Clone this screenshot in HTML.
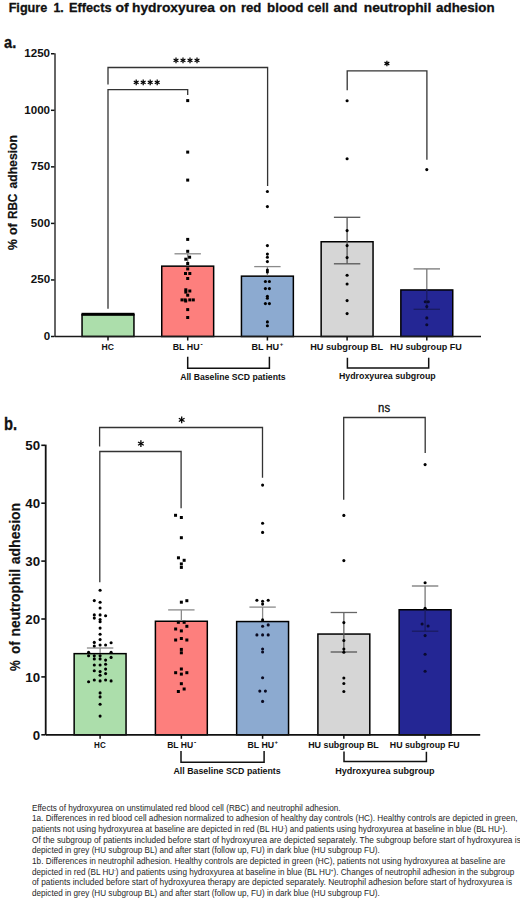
<!DOCTYPE html>
<html><head><meta charset="utf-8"><style>
html,body{margin:0;padding:0;background:#fff;}
body{width:520px;height:902px;overflow:hidden;}
svg{display:block;font-family:"Liberation Sans",sans-serif;}
</style></head><body>
<svg width="520" height="902" viewBox="0 0 520 902">
<rect width="520" height="902" fill="#fff"/>
<text x="8.65" y="12.10" font-size="13.2" font-weight="bold" text-anchor="start" fill="#111" textLength="38.65" lengthAdjust="spacingAndGlyphs" stroke="#111" stroke-width="0.3">Figure</text>
<text x="53.50" y="12.10" font-size="13.2" font-weight="bold" text-anchor="start" fill="#111" textLength="10.30" lengthAdjust="spacingAndGlyphs" stroke="#111" stroke-width="0.3">1.</text>
<text x="69.00" y="12.10" font-size="13.2" font-weight="bold" text-anchor="start" fill="#111" textLength="42.49" lengthAdjust="spacingAndGlyphs" stroke="#111" stroke-width="0.3">Effects</text>
<text x="115.60" y="12.10" font-size="13.2" font-weight="bold" text-anchor="start" fill="#111" textLength="13.17" lengthAdjust="spacingAndGlyphs" stroke="#111" stroke-width="0.3">of</text>
<text x="132.00" y="12.10" font-size="13.2" font-weight="bold" text-anchor="start" fill="#111" textLength="82.91" lengthAdjust="spacingAndGlyphs" stroke="#111" stroke-width="0.3">hydroxyurea</text>
<text x="219.60" y="12.10" font-size="13.2" font-weight="bold" text-anchor="start" fill="#111" textLength="16.20" lengthAdjust="spacingAndGlyphs" stroke="#111" stroke-width="0.3">on</text>
<text x="240.90" y="12.10" font-size="13.2" font-weight="bold" text-anchor="start" fill="#111" textLength="20.40" lengthAdjust="spacingAndGlyphs" stroke="#111" stroke-width="0.3">red</text>
<text x="267.10" y="12.10" font-size="13.2" font-weight="bold" text-anchor="start" fill="#111" textLength="36.20" lengthAdjust="spacingAndGlyphs" stroke="#111" stroke-width="0.3">blood</text>
<text x="307.50" y="12.10" font-size="13.2" font-weight="bold" text-anchor="start" fill="#111" textLength="21.30" lengthAdjust="spacingAndGlyphs" stroke="#111" stroke-width="0.3">cell</text>
<text x="333.40" y="12.10" font-size="13.2" font-weight="bold" text-anchor="start" fill="#111" textLength="24.00" lengthAdjust="spacingAndGlyphs" stroke="#111" stroke-width="0.3">and</text>
<text x="363.70" y="12.10" font-size="13.2" font-weight="bold" text-anchor="start" fill="#111" textLength="67.60" lengthAdjust="spacingAndGlyphs" stroke="#111" stroke-width="0.3">neutrophil</text>
<text x="436.10" y="12.10" font-size="13.2" font-weight="bold" text-anchor="start" fill="#111" textLength="58.50" lengthAdjust="spacingAndGlyphs" stroke="#111" stroke-width="0.3">adhesion</text>
<text x="4.10" y="47.60" font-size="17" font-weight="bold" text-anchor="start" fill="#111" textLength="12.20" lengthAdjust="spacingAndGlyphs" stroke="#111" stroke-width="0.3">a.</text>
<rect x="54" y="53.3" width="2" height="283.70" fill="#666"/>
<line x1="51.00" y1="336.50" x2="54.50" y2="336.50" stroke="#111" stroke-width="1.5"/>
<text x="43.65" y="339.80" font-size="11.6" font-weight="bold" text-anchor="start" fill="#111">0</text>
<line x1="51.00" y1="279.95" x2="54.50" y2="279.95" stroke="#111" stroke-width="1.5"/>
<text x="30.75" y="283.25" font-size="11.6" font-weight="bold" text-anchor="start" fill="#111">250</text>
<line x1="51.00" y1="223.40" x2="54.50" y2="223.40" stroke="#111" stroke-width="1.5"/>
<text x="30.75" y="226.70" font-size="11.6" font-weight="bold" text-anchor="start" fill="#111">500</text>
<line x1="51.00" y1="166.85" x2="54.50" y2="166.85" stroke="#111" stroke-width="1.5"/>
<text x="30.75" y="170.15" font-size="11.6" font-weight="bold" text-anchor="start" fill="#111">750</text>
<line x1="51.00" y1="110.30" x2="54.50" y2="110.30" stroke="#111" stroke-width="1.5"/>
<text x="24.29" y="113.60" font-size="11.6" font-weight="bold" text-anchor="start" fill="#111">1000</text>
<line x1="51.00" y1="53.75" x2="54.50" y2="53.75" stroke="#111" stroke-width="1.5"/>
<text x="24.29" y="57.05" font-size="11.6" font-weight="bold" text-anchor="start" fill="#111">1250</text>
<g transform="translate(17.3,0) rotate(-90)">
<text x="-249.90" y="0.00" font-size="13.2" font-weight="bold" text-anchor="start" fill="#111" textLength="10.90" lengthAdjust="spacingAndGlyphs" stroke="#111" stroke-width="0.2">%</text>
<text x="-235.00" y="0.00" font-size="13.2" font-weight="bold" text-anchor="start" fill="#111" textLength="11.77" lengthAdjust="spacingAndGlyphs" stroke="#111" stroke-width="0.2">of</text>
<text x="-219.10" y="0.00" font-size="13.2" font-weight="bold" text-anchor="start" fill="#111" textLength="25.44" lengthAdjust="spacingAndGlyphs" stroke="#111" stroke-width="0.2">RBC</text>
<text x="-188.60" y="0.00" font-size="13.2" font-weight="bold" text-anchor="start" fill="#111" textLength="53.60" lengthAdjust="spacingAndGlyphs" stroke="#111" stroke-width="0.2">adhesion</text>
</g>
<rect x="82.05" y="314.63" width="51.90" height="21.87" fill="#acdeab" stroke="#000" stroke-width="1.5"/>
<rect x="161.75" y="266.15" width="51.90" height="70.35" fill="#fd7f7d" stroke="#000" stroke-width="1.5"/>
<rect x="241.45" y="276.15" width="51.90" height="60.35" fill="#8caad0" stroke="#000" stroke-width="1.5"/>
<rect x="321.15" y="241.75" width="51.90" height="94.75" fill="#d6d6d6" stroke="#000" stroke-width="1.5"/>
<rect x="400.85" y="289.95" width="51.90" height="46.55" fill="#242694" stroke="#000" stroke-width="1.5"/>
<rect x="81.50" y="312.8" width="53" height="2.9" fill="#000"/>
<line x1="55.00" y1="336.50" x2="481.00" y2="336.50" stroke="#1a1a1a" stroke-width="1.6"/>
<line x1="108.00" y1="336.50" x2="108.00" y2="340.50" stroke="#111" stroke-width="1.5"/>
<line x1="187.70" y1="336.50" x2="187.70" y2="340.50" stroke="#111" stroke-width="1.5"/>
<line x1="267.40" y1="336.50" x2="267.40" y2="340.50" stroke="#111" stroke-width="1.5"/>
<line x1="347.10" y1="336.50" x2="347.10" y2="340.50" stroke="#111" stroke-width="1.5"/>
<line x1="426.80" y1="336.50" x2="426.80" y2="340.50" stroke="#111" stroke-width="1.5"/>
<line x1="187.70" y1="253.80" x2="187.70" y2="265.40" stroke="#8a8a8a" stroke-width="1.3"/>
<line x1="174.50" y1="253.80" x2="200.90" y2="253.80" stroke="#8a8a8a" stroke-width="1.3"/>
<line x1="267.40" y1="266.60" x2="267.40" y2="275.40" stroke="#8a8a8a" stroke-width="1.3"/>
<line x1="254.20" y1="266.60" x2="280.60" y2="266.60" stroke="#8a8a8a" stroke-width="1.3"/>
<line x1="347.10" y1="217.30" x2="347.10" y2="241.00" stroke="#555" stroke-width="1.3"/>
<line x1="333.90" y1="217.30" x2="360.30" y2="217.30" stroke="#555" stroke-width="1.3"/>
<line x1="347.10" y1="241.00" x2="347.10" y2="263.80" stroke="#555" stroke-width="1.3"/>
<line x1="333.90" y1="263.80" x2="360.30" y2="263.80" stroke="#555" stroke-width="1.3"/>
<line x1="426.80" y1="268.90" x2="426.80" y2="289.20" stroke="#777" stroke-width="1.3"/>
<line x1="413.60" y1="268.90" x2="440.00" y2="268.90" stroke="#777" stroke-width="1.3"/>
<line x1="426.80" y1="289.20" x2="426.80" y2="309.30" stroke="#1a1c60" stroke-width="1.3"/>
<line x1="413.60" y1="309.30" x2="440.00" y2="309.30" stroke="#1a1c60" stroke-width="1.3"/>
<polyline points="108.00,308.00 108.00,89.60 187.70,89.60 187.70,94.40" fill="none" stroke="#333" stroke-width="1.3" stroke-linejoin="miter" stroke-linecap="square"/>
<polyline points="108.00,83.80 108.00,67.50 267.60,67.50 267.60,185.30" fill="none" stroke="#333" stroke-width="1.3" stroke-linejoin="miter" stroke-linecap="square"/>
<polyline points="347.20,89.50 347.20,70.80 426.90,70.80 426.90,159.20" fill="none" stroke="#333" stroke-width="1.3" stroke-linejoin="miter" stroke-linecap="square"/>
<line x1="136.20" y1="79.60" x2="136.20" y2="85.20" stroke="#000" stroke-width="1.25"/>
<line x1="133.78" y1="81.00" x2="138.62" y2="83.80" stroke="#000" stroke-width="1.25"/>
<line x1="138.62" y1="81.00" x2="133.78" y2="83.80" stroke="#000" stroke-width="1.25"/>
<line x1="143.20" y1="79.60" x2="143.20" y2="85.20" stroke="#000" stroke-width="1.25"/>
<line x1="140.78" y1="81.00" x2="145.62" y2="83.80" stroke="#000" stroke-width="1.25"/>
<line x1="145.62" y1="81.00" x2="140.78" y2="83.80" stroke="#000" stroke-width="1.25"/>
<line x1="150.20" y1="79.60" x2="150.20" y2="85.20" stroke="#000" stroke-width="1.25"/>
<line x1="147.78" y1="81.00" x2="152.62" y2="83.80" stroke="#000" stroke-width="1.25"/>
<line x1="152.62" y1="81.00" x2="147.78" y2="83.80" stroke="#000" stroke-width="1.25"/>
<line x1="157.20" y1="79.60" x2="157.20" y2="85.20" stroke="#000" stroke-width="1.25"/>
<line x1="154.78" y1="81.00" x2="159.62" y2="83.80" stroke="#000" stroke-width="1.25"/>
<line x1="159.62" y1="81.00" x2="154.78" y2="83.80" stroke="#000" stroke-width="1.25"/>
<line x1="176.00" y1="57.60" x2="176.00" y2="63.20" stroke="#000" stroke-width="1.25"/>
<line x1="173.58" y1="59.00" x2="178.42" y2="61.80" stroke="#000" stroke-width="1.25"/>
<line x1="178.42" y1="59.00" x2="173.58" y2="61.80" stroke="#000" stroke-width="1.25"/>
<line x1="183.00" y1="57.60" x2="183.00" y2="63.20" stroke="#000" stroke-width="1.25"/>
<line x1="180.58" y1="59.00" x2="185.42" y2="61.80" stroke="#000" stroke-width="1.25"/>
<line x1="185.42" y1="59.00" x2="180.58" y2="61.80" stroke="#000" stroke-width="1.25"/>
<line x1="190.00" y1="57.60" x2="190.00" y2="63.20" stroke="#000" stroke-width="1.25"/>
<line x1="187.58" y1="59.00" x2="192.42" y2="61.80" stroke="#000" stroke-width="1.25"/>
<line x1="192.42" y1="59.00" x2="187.58" y2="61.80" stroke="#000" stroke-width="1.25"/>
<line x1="197.00" y1="57.60" x2="197.00" y2="63.20" stroke="#000" stroke-width="1.25"/>
<line x1="194.58" y1="59.00" x2="199.42" y2="61.80" stroke="#000" stroke-width="1.25"/>
<line x1="199.42" y1="59.00" x2="194.58" y2="61.80" stroke="#000" stroke-width="1.25"/>
<line x1="386.90" y1="60.70" x2="386.90" y2="66.30" stroke="#000" stroke-width="1.25"/>
<line x1="384.48" y1="62.10" x2="389.32" y2="64.90" stroke="#000" stroke-width="1.25"/>
<line x1="389.32" y1="62.10" x2="384.48" y2="64.90" stroke="#000" stroke-width="1.25"/>
<rect x="186.20" y="99.10" width="3" height="3" fill="#000"/>
<rect x="186.20" y="150.60" width="3" height="3" fill="#000"/>
<rect x="186.20" y="178.60" width="3" height="3" fill="#000"/>
<rect x="186.20" y="237.90" width="3" height="3" fill="#000"/>
<rect x="186.20" y="249.80" width="3" height="3" fill="#000"/>
<rect x="188.10" y="255.70" width="3" height="3" fill="#000"/>
<rect x="184.30" y="257.70" width="3" height="3" fill="#000"/>
<rect x="186.20" y="262.00" width="3" height="3" fill="#000"/>
<rect x="186.20" y="267.40" width="3" height="3" fill="#000"/>
<rect x="184.00" y="272.00" width="3" height="3" fill="#000"/>
<rect x="188.30" y="272.00" width="3" height="3" fill="#000"/>
<rect x="186.20" y="277.00" width="3" height="3" fill="#000"/>
<rect x="184.30" y="288.30" width="3" height="3" fill="#000"/>
<rect x="188.30" y="289.50" width="3" height="3" fill="#000"/>
<rect x="184.30" y="290.60" width="3" height="3" fill="#000"/>
<rect x="186.20" y="293.70" width="3" height="3" fill="#000"/>
<rect x="180.50" y="298.40" width="3" height="3" fill="#000"/>
<rect x="183.70" y="298.40" width="3" height="3" fill="#000"/>
<rect x="188.30" y="298.40" width="3" height="3" fill="#000"/>
<rect x="191.80" y="298.40" width="3" height="3" fill="#000"/>
<rect x="184.20" y="299.50" width="3" height="3" fill="#000"/>
<rect x="186.20" y="308.10" width="3" height="3" fill="#000"/>
<rect x="186.20" y="316.00" width="3" height="3" fill="#000"/>
<circle cx="267.40" cy="191.50" r="1.55" fill="#000"/>
<circle cx="267.40" cy="206.60" r="1.55" fill="#000"/>
<circle cx="267.40" cy="245.60" r="1.55" fill="#000"/>
<circle cx="267.40" cy="254.10" r="1.55" fill="#000"/>
<circle cx="267.40" cy="257.20" r="1.55" fill="#000"/>
<circle cx="267.40" cy="261.60" r="1.55" fill="#000"/>
<circle cx="267.40" cy="270.10" r="1.55" fill="#000"/>
<circle cx="267.40" cy="271.90" r="1.55" fill="#000"/>
<circle cx="265.40" cy="281.50" r="1.55" fill="#000"/>
<circle cx="269.40" cy="281.50" r="1.55" fill="#000"/>
<circle cx="265.40" cy="288.60" r="1.55" fill="#000"/>
<circle cx="269.40" cy="288.60" r="1.55" fill="#000"/>
<circle cx="267.40" cy="296.20" r="1.55" fill="#000"/>
<circle cx="267.40" cy="298.30" r="1.55" fill="#000"/>
<circle cx="265.40" cy="303.60" r="1.55" fill="#000"/>
<circle cx="269.40" cy="303.60" r="1.55" fill="#000"/>
<circle cx="267.40" cy="321.90" r="1.55" fill="#000"/>
<circle cx="267.40" cy="325.80" r="1.55" fill="#000"/>
<circle cx="347.10" cy="100.80" r="1.55" fill="#000"/>
<circle cx="347.10" cy="158.80" r="1.55" fill="#000"/>
<circle cx="347.10" cy="230.60" r="1.55" fill="#000"/>
<circle cx="347.10" cy="245.60" r="1.55" fill="#000"/>
<circle cx="347.10" cy="257.60" r="1.55" fill="#000"/>
<circle cx="347.10" cy="275.20" r="1.55" fill="#000"/>
<circle cx="347.10" cy="284.00" r="1.55" fill="#000"/>
<circle cx="347.10" cy="300.60" r="1.55" fill="#000"/>
<circle cx="347.10" cy="313.60" r="1.55" fill="#000"/>
<circle cx="426.80" cy="169.60" r="1.55" fill="#000"/>
<circle cx="425.30" cy="301.70" r="1.55" fill="#0a0a30"/>
<circle cx="428.30" cy="301.70" r="1.55" fill="#0a0a30"/>
<circle cx="426.80" cy="306.60" r="1.55" fill="#0a0a30"/>
<circle cx="426.80" cy="317.90" r="1.55" fill="#0a0a30"/>
<circle cx="426.80" cy="324.80" r="1.55" fill="#0a0a30"/>
<text x="101.60" y="350.10" font-size="9" font-weight="bold" text-anchor="start" fill="#111" textLength="12.40" lengthAdjust="spacingAndGlyphs">HC</text>
<text x="172.70" y="350.10" font-size="9" font-weight="bold" text-anchor="start" fill="#111" textLength="26.90" lengthAdjust="spacingAndGlyphs">BL HU</text>
<text x="200.40" y="346.20" font-size="6.5" font-weight="bold" fill="#111">-</text>
<text x="251.50" y="350.10" font-size="9" font-weight="bold" text-anchor="start" fill="#111" textLength="27.60" lengthAdjust="spacingAndGlyphs">BL HU</text>
<text x="279.80" y="346.40" font-size="6" font-weight="bold" fill="#111">+</text>
<text x="310.20" y="350.10" font-size="9" font-weight="bold" text-anchor="start" fill="#111" textLength="72.90" lengthAdjust="spacingAndGlyphs">HU subgroup BL</text>
<text x="389.90" y="350.10" font-size="9" font-weight="bold" text-anchor="start" fill="#111" textLength="71.90" lengthAdjust="spacingAndGlyphs">HU subgroup FU</text>
<polyline points="187.70,357.60 187.70,368.20 269.40,368.20 269.40,357.60" fill="none" stroke="#111" stroke-width="1.5" stroke-linejoin="miter" stroke-linecap="square"/>
<polyline points="347.40,358.40 347.40,368.00 428.70,368.00 428.70,358.40" fill="none" stroke="#111" stroke-width="1.5" stroke-linejoin="miter" stroke-linecap="square"/>
<text x="180.20" y="379.80" font-size="8.8" font-weight="bold" text-anchor="start" fill="#111" textLength="105.50" lengthAdjust="spacingAndGlyphs">All Baseline SCD patients</text>
<text x="339.00" y="378.60" font-size="8.8" font-weight="bold" text-anchor="start" fill="#111" textLength="96.70" lengthAdjust="spacingAndGlyphs">Hydroxyurea subgroup</text>
<text x="4.10" y="429.60" font-size="17.6" font-weight="bold" text-anchor="start" fill="#111" textLength="13.10" lengthAdjust="spacingAndGlyphs" stroke="#111" stroke-width="0.3">b.</text>
<rect x="44.8" y="444.6" width="1.8" height="290.80" fill="#111"/>
<line x1="41.30" y1="734.80" x2="45.00" y2="734.80" stroke="#111" stroke-width="1.6"/>
<text x="32.71" y="739.50" font-size="13.3" font-weight="bold" text-anchor="start" fill="#111">0</text>
<line x1="41.30" y1="676.90" x2="45.00" y2="676.90" stroke="#111" stroke-width="1.6"/>
<text x="25.31" y="681.60" font-size="13.3" font-weight="bold" text-anchor="start" fill="#111">10</text>
<line x1="41.30" y1="619.00" x2="45.00" y2="619.00" stroke="#111" stroke-width="1.6"/>
<text x="25.31" y="623.70" font-size="13.3" font-weight="bold" text-anchor="start" fill="#111">20</text>
<line x1="41.30" y1="561.10" x2="45.00" y2="561.10" stroke="#111" stroke-width="1.6"/>
<text x="25.31" y="565.80" font-size="13.3" font-weight="bold" text-anchor="start" fill="#111">30</text>
<line x1="41.30" y1="503.20" x2="45.00" y2="503.20" stroke="#111" stroke-width="1.6"/>
<text x="25.31" y="507.90" font-size="13.3" font-weight="bold" text-anchor="start" fill="#111">40</text>
<line x1="41.30" y1="445.30" x2="45.00" y2="445.30" stroke="#111" stroke-width="1.6"/>
<text x="25.31" y="450.00" font-size="13.3" font-weight="bold" text-anchor="start" fill="#111">50</text>
<g transform="translate(19.9,0) rotate(-90)">
<text x="-671.00" y="0.00" font-size="14.8" font-weight="bold" text-anchor="start" fill="#111" textLength="10.70" lengthAdjust="spacingAndGlyphs" stroke="#111" stroke-width="0.2">%</text>
<text x="-654.10" y="0.00" font-size="14.8" font-weight="bold" text-anchor="start" fill="#111" textLength="12.77" lengthAdjust="spacingAndGlyphs" stroke="#111" stroke-width="0.2">of</text>
<text x="-636.40" y="0.00" font-size="14.8" font-weight="bold" text-anchor="start" fill="#111" textLength="67.40" lengthAdjust="spacingAndGlyphs" stroke="#111" stroke-width="0.2">neutrophil</text>
<text x="-564.20" y="0.00" font-size="14.8" font-weight="bold" text-anchor="start" fill="#111" textLength="61.30" lengthAdjust="spacingAndGlyphs" stroke="#111" stroke-width="0.2">adhesion</text>
</g>
<rect x="74.15" y="653.65" width="51.90" height="81.15" fill="#acdeab" stroke="#000" stroke-width="1.5"/>
<rect x="155.40" y="621.25" width="51.90" height="113.55" fill="#fd7f7d" stroke="#000" stroke-width="1.5"/>
<rect x="236.65" y="621.55" width="51.90" height="113.25" fill="#8caad0" stroke="#000" stroke-width="1.5"/>
<rect x="317.90" y="634.05" width="51.90" height="100.75" fill="#d6d6d6" stroke="#000" stroke-width="1.5"/>
<rect x="399.15" y="609.75" width="51.90" height="125.05" fill="#242694" stroke="#000" stroke-width="1.5"/>
<line x1="46.00" y1="734.80" x2="480.20" y2="734.80" stroke="#111" stroke-width="1.8"/>
<line x1="100.10" y1="734.80" x2="100.10" y2="738.80" stroke="#111" stroke-width="1.5"/>
<line x1="181.35" y1="734.80" x2="181.35" y2="738.80" stroke="#111" stroke-width="1.5"/>
<line x1="262.60" y1="734.80" x2="262.60" y2="738.80" stroke="#111" stroke-width="1.5"/>
<line x1="343.85" y1="734.80" x2="343.85" y2="738.80" stroke="#111" stroke-width="1.5"/>
<line x1="425.10" y1="734.80" x2="425.10" y2="738.80" stroke="#111" stroke-width="1.5"/>
<line x1="100.10" y1="648.00" x2="100.10" y2="652.90" stroke="#8a8a8a" stroke-width="1.3"/>
<line x1="86.90" y1="648.00" x2="113.30" y2="648.00" stroke="#8a8a8a" stroke-width="1.3"/>
<line x1="181.35" y1="609.90" x2="181.35" y2="620.50" stroke="#8a8a8a" stroke-width="1.3"/>
<line x1="168.15" y1="609.90" x2="194.55" y2="609.90" stroke="#8a8a8a" stroke-width="1.3"/>
<line x1="262.60" y1="607.10" x2="262.60" y2="620.80" stroke="#8a8a8a" stroke-width="1.3"/>
<line x1="249.40" y1="607.10" x2="275.80" y2="607.10" stroke="#8a8a8a" stroke-width="1.3"/>
<line x1="343.85" y1="612.50" x2="343.85" y2="633.30" stroke="#666" stroke-width="1.3"/>
<line x1="330.65" y1="612.50" x2="357.05" y2="612.50" stroke="#666" stroke-width="1.3"/>
<line x1="343.85" y1="633.30" x2="343.85" y2="652.00" stroke="#555" stroke-width="1.3"/>
<line x1="330.65" y1="652.00" x2="357.05" y2="652.00" stroke="#555" stroke-width="1.3"/>
<line x1="425.10" y1="586.00" x2="425.10" y2="609.00" stroke="#777" stroke-width="1.3"/>
<line x1="411.90" y1="586.00" x2="438.30" y2="586.00" stroke="#777" stroke-width="1.3"/>
<line x1="425.10" y1="609.00" x2="425.10" y2="631.20" stroke="#1a1c60" stroke-width="1.3"/>
<line x1="411.90" y1="631.20" x2="438.30" y2="631.20" stroke="#1a1c60" stroke-width="1.3"/>
<polyline points="99.80,581.50 99.80,451.50 181.10,451.50 181.10,507.50" fill="none" stroke="#333" stroke-width="1.3" stroke-linejoin="miter" stroke-linecap="square"/>
<polyline points="99.60,445.80 99.60,427.50 262.50,427.50 262.50,477.20" fill="none" stroke="#333" stroke-width="1.3" stroke-linejoin="miter" stroke-linecap="square"/>
<polyline points="343.70,499.00 343.70,417.50 425.20,417.50 425.20,452.30" fill="none" stroke="#333" stroke-width="1.3" stroke-linejoin="miter" stroke-linecap="square"/>
<line x1="140.90" y1="440.30" x2="140.90" y2="446.90" stroke="#000" stroke-width="1.3"/>
<line x1="138.04" y1="441.95" x2="143.76" y2="445.25" stroke="#000" stroke-width="1.3"/>
<line x1="143.76" y1="441.95" x2="138.04" y2="445.25" stroke="#000" stroke-width="1.3"/>
<line x1="181.70" y1="416.60" x2="181.70" y2="423.20" stroke="#000" stroke-width="1.3"/>
<line x1="178.84" y1="418.25" x2="184.56" y2="421.55" stroke="#000" stroke-width="1.3"/>
<line x1="184.56" y1="418.25" x2="178.84" y2="421.55" stroke="#000" stroke-width="1.3"/>
<text x="384.10" y="411.80" font-size="12" font-weight="normal" text-anchor="middle" fill="#111" textLength="12.00" lengthAdjust="spacingAndGlyphs" stroke="#111" stroke-width="0.3">ns</text>
<circle cx="100.10" cy="590.20" r="1.55" fill="#000"/>
<circle cx="94.30" cy="600.60" r="1.55" fill="#000"/>
<circle cx="100.10" cy="602.20" r="1.55" fill="#000"/>
<circle cx="100.10" cy="608.00" r="1.55" fill="#000"/>
<circle cx="94.30" cy="614.90" r="1.55" fill="#000"/>
<circle cx="100.10" cy="614.90" r="1.55" fill="#000"/>
<circle cx="105.60" cy="615.70" r="1.55" fill="#000"/>
<circle cx="94.30" cy="618.10" r="1.55" fill="#000"/>
<circle cx="100.10" cy="619.50" r="1.55" fill="#000"/>
<circle cx="100.10" cy="621.70" r="1.55" fill="#000"/>
<circle cx="100.10" cy="628.10" r="1.55" fill="#000"/>
<circle cx="100.10" cy="634.30" r="1.55" fill="#000"/>
<circle cx="100.10" cy="639.60" r="1.55" fill="#000"/>
<circle cx="94.30" cy="642.40" r="1.55" fill="#000"/>
<circle cx="111.10" cy="642.70" r="1.55" fill="#000"/>
<circle cx="100.10" cy="645.00" r="1.55" fill="#000"/>
<circle cx="105.60" cy="645.00" r="1.55" fill="#000"/>
<circle cx="94.30" cy="646.00" r="1.55" fill="#000"/>
<circle cx="88.60" cy="652.30" r="1.55" fill="#000"/>
<circle cx="111.10" cy="652.30" r="1.55" fill="#000"/>
<circle cx="88.60" cy="655.80" r="1.55" fill="#000"/>
<circle cx="94.30" cy="655.80" r="1.55" fill="#000"/>
<circle cx="100.10" cy="655.80" r="1.55" fill="#000"/>
<circle cx="111.10" cy="657.40" r="1.55" fill="#000"/>
<circle cx="94.30" cy="658.90" r="1.55" fill="#000"/>
<circle cx="100.10" cy="658.90" r="1.55" fill="#000"/>
<circle cx="105.60" cy="660.10" r="1.55" fill="#000"/>
<circle cx="105.60" cy="664.30" r="1.55" fill="#000"/>
<circle cx="94.30" cy="665.00" r="1.55" fill="#000"/>
<circle cx="100.10" cy="665.00" r="1.55" fill="#000"/>
<circle cx="105.60" cy="669.10" r="1.55" fill="#000"/>
<circle cx="94.30" cy="670.70" r="1.55" fill="#000"/>
<circle cx="100.10" cy="671.60" r="1.55" fill="#000"/>
<circle cx="105.60" cy="673.60" r="1.55" fill="#000"/>
<circle cx="100.10" cy="675.30" r="1.55" fill="#000"/>
<circle cx="94.30" cy="680.00" r="1.55" fill="#000"/>
<circle cx="105.60" cy="680.00" r="1.55" fill="#000"/>
<circle cx="100.10" cy="680.90" r="1.55" fill="#000"/>
<circle cx="111.10" cy="680.90" r="1.55" fill="#000"/>
<circle cx="88.60" cy="681.80" r="1.55" fill="#000"/>
<circle cx="100.10" cy="692.90" r="1.55" fill="#000"/>
<circle cx="100.10" cy="696.90" r="1.55" fill="#000"/>
<circle cx="100.10" cy="704.20" r="1.55" fill="#000"/>
<circle cx="100.10" cy="716.10" r="1.55" fill="#000"/>
<rect x="174.05" y="513.80" width="3" height="3" fill="#000"/>
<rect x="179.85" y="516.00" width="3" height="3" fill="#000"/>
<rect x="179.85" y="536.20" width="3" height="3" fill="#000"/>
<rect x="176.95" y="556.30" width="3" height="3" fill="#000"/>
<rect x="182.65" y="558.80" width="3" height="3" fill="#000"/>
<rect x="179.85" y="562.40" width="3" height="3" fill="#000"/>
<rect x="179.85" y="565.90" width="3" height="3" fill="#000"/>
<rect x="185.35" y="599.20" width="3" height="3" fill="#000"/>
<rect x="179.85" y="600.70" width="3" height="3" fill="#000"/>
<rect x="176.85" y="620.80" width="3" height="3" fill="#000"/>
<rect x="182.65" y="620.80" width="3" height="3" fill="#000"/>
<rect x="185.35" y="624.80" width="3" height="3" fill="#000"/>
<rect x="174.15" y="627.50" width="3" height="3" fill="#000"/>
<rect x="179.85" y="629.40" width="3" height="3" fill="#000"/>
<rect x="179.85" y="637.00" width="3" height="3" fill="#000"/>
<rect x="174.15" y="638.50" width="3" height="3" fill="#000"/>
<rect x="185.35" y="638.50" width="3" height="3" fill="#000"/>
<rect x="179.85" y="647.90" width="3" height="3" fill="#000"/>
<rect x="179.85" y="651.30" width="3" height="3" fill="#000"/>
<rect x="179.85" y="667.50" width="3" height="3" fill="#000"/>
<rect x="174.15" y="671.20" width="3" height="3" fill="#000"/>
<rect x="185.35" y="671.20" width="3" height="3" fill="#000"/>
<rect x="179.85" y="672.60" width="3" height="3" fill="#000"/>
<rect x="179.85" y="682.20" width="3" height="3" fill="#000"/>
<rect x="182.65" y="687.50" width="3" height="3" fill="#000"/>
<rect x="176.85" y="690.00" width="3" height="3" fill="#000"/>
<circle cx="262.60" cy="485.10" r="1.55" fill="#000"/>
<circle cx="262.60" cy="523.30" r="1.55" fill="#000"/>
<circle cx="262.60" cy="532.40" r="1.55" fill="#000"/>
<circle cx="256.90" cy="600.30" r="1.55" fill="#000"/>
<circle cx="268.20" cy="600.30" r="1.55" fill="#000"/>
<circle cx="262.60" cy="601.30" r="1.55" fill="#000"/>
<circle cx="262.60" cy="604.10" r="1.55" fill="#000"/>
<circle cx="262.60" cy="619.90" r="1.55" fill="#000"/>
<circle cx="268.20" cy="624.90" r="1.55" fill="#0a0a20"/>
<circle cx="262.60" cy="626.20" r="1.55" fill="#0a0a20"/>
<circle cx="256.90" cy="634.90" r="1.55" fill="#0a0a20"/>
<circle cx="262.60" cy="634.90" r="1.55" fill="#0a0a20"/>
<circle cx="268.20" cy="634.90" r="1.55" fill="#0a0a20"/>
<circle cx="262.60" cy="649.00" r="1.55" fill="#0a0a20"/>
<circle cx="262.60" cy="652.00" r="1.55" fill="#0a0a20"/>
<circle cx="262.60" cy="677.80" r="1.55" fill="#0a0a20"/>
<circle cx="259.80" cy="691.10" r="1.55" fill="#0a0a20"/>
<circle cx="265.40" cy="691.10" r="1.55" fill="#0a0a20"/>
<circle cx="262.60" cy="701.40" r="1.55" fill="#0a0a20"/>
<circle cx="343.85" cy="515.40" r="1.55" fill="#000"/>
<circle cx="343.85" cy="560.60" r="1.55" fill="#000"/>
<circle cx="343.85" cy="622.60" r="1.55" fill="#000"/>
<circle cx="343.85" cy="640.50" r="1.55" fill="#000"/>
<circle cx="343.85" cy="649.10" r="1.55" fill="#000"/>
<circle cx="343.85" cy="652.30" r="1.55" fill="#000"/>
<circle cx="343.85" cy="678.00" r="1.55" fill="#000"/>
<circle cx="343.85" cy="683.50" r="1.55" fill="#000"/>
<circle cx="343.85" cy="691.50" r="1.55" fill="#000"/>
<circle cx="425.10" cy="464.60" r="1.55" fill="#000"/>
<circle cx="425.10" cy="582.80" r="1.55" fill="#000"/>
<circle cx="425.10" cy="608.20" r="1.55" fill="#000"/>
<circle cx="422.10" cy="624.00" r="1.55" fill="#0a0a30"/>
<circle cx="428.10" cy="626.00" r="1.55" fill="#0a0a30"/>
<circle cx="425.10" cy="635.60" r="1.55" fill="#0a0a30"/>
<circle cx="425.10" cy="654.30" r="1.55" fill="#0a0a30"/>
<circle cx="425.10" cy="671.30" r="1.55" fill="#0a0a30"/>
<text x="94.10" y="748.00" font-size="8.7" font-weight="bold" text-anchor="start" fill="#111" textLength="11.60" lengthAdjust="spacingAndGlyphs">HC</text>
<text x="167.20" y="748.00" font-size="8.7" font-weight="bold" text-anchor="start" fill="#111" textLength="26.00" lengthAdjust="spacingAndGlyphs">BL HU</text>
<text x="194.00" y="744.00" font-size="6.5" font-weight="bold" fill="#111">-</text>
<text x="247.50" y="748.00" font-size="8.7" font-weight="bold" text-anchor="start" fill="#111" textLength="26.60" lengthAdjust="spacingAndGlyphs">BL HU</text>
<text x="274.60" y="744.30" font-size="6" font-weight="bold" fill="#111">+</text>
<text x="308.20" y="748.00" font-size="8.7" font-weight="bold" text-anchor="start" fill="#111" textLength="70.60" lengthAdjust="spacingAndGlyphs">HU subgroup BL</text>
<text x="389.80" y="748.00" font-size="8.7" font-weight="bold" text-anchor="start" fill="#111" textLength="69.80" lengthAdjust="spacingAndGlyphs">HU subgroup FU</text>
<polyline points="181.00,751.70 181.00,762.20 264.10,762.20 264.10,751.70" fill="none" stroke="#111" stroke-width="1.5" stroke-linejoin="miter" stroke-linecap="square"/>
<polyline points="344.00,752.20 344.00,761.60 426.40,761.60 426.40,752.50" fill="none" stroke="#111" stroke-width="1.5" stroke-linejoin="miter" stroke-linecap="square"/>
<text x="173.50" y="774.20" font-size="8.8" font-weight="bold" text-anchor="start" fill="#111" textLength="107.20" lengthAdjust="spacingAndGlyphs">All Baseline SCD patients</text>
<text x="335.20" y="773.50" font-size="8.8" font-weight="bold" text-anchor="start" fill="#111" textLength="99.40" lengthAdjust="spacingAndGlyphs">Hydroxyurea subgroup</text>
<text x="32.00" y="810.80" font-size="9" font-weight="normal" text-anchor="start" fill="#262626" textLength="308.60" lengthAdjust="spacingAndGlyphs">Effects of hydroxyurea on unstimulated red blood cell (RBC) and neutrophil adhesion.</text>
<text x="32.00" y="821.46" font-size="9" font-weight="normal" text-anchor="start" fill="#262626" textLength="485.50" lengthAdjust="spacingAndGlyphs">1a. Differences in red blood cell adhesion normalized to adhesion of healthy day controls (HC). Healthy controls are depicted in green,</text>
<text x="32.00" y="832.12" font-size="9" font-weight="normal" text-anchor="start" fill="#262626" textLength="475.50" lengthAdjust="spacingAndGlyphs">patients not using hydroxyurea at baseline are depicted in red (BL HU<tspan font-size="5" dy="-2.5">-</tspan><tspan dy="2.5">) and patients using hydroxyurea at baseline in blue (BL HU</tspan><tspan font-size="5" dy="-2.5">+</tspan><tspan dy="2.5">).</tspan></text>
<text x="32.00" y="842.78" font-size="9" font-weight="normal" text-anchor="start" fill="#262626" textLength="488.80" lengthAdjust="spacingAndGlyphs">Of the subgroup of patients included before start of hydroxyurea are depicted separately. The subgroup before start of hydroxyurea is</text>
<text x="32.00" y="853.44" font-size="9" font-weight="normal" text-anchor="start" fill="#262626" textLength="347.80" lengthAdjust="spacingAndGlyphs">depicted in grey (HU subgroup BL) and after start (follow up, FU) in dark blue (HU subgroup FU).</text>
<text x="32.00" y="864.10" font-size="9" font-weight="normal" text-anchor="start" fill="#262626" textLength="473.20" lengthAdjust="spacingAndGlyphs">1b. Differences in neutrophil adhesion. Healthy controls are depicted in green (HC), patients not using hydroxyurea at baseline are</text>
<text x="32.00" y="874.76" font-size="9" font-weight="normal" text-anchor="start" fill="#262626" textLength="482.40" lengthAdjust="spacingAndGlyphs">depicted in red (BL HU<tspan font-size="5" dy="-2.5">-</tspan><tspan dy="2.5">) and patients using hydroxyurea at baseline in blue (BL HU</tspan><tspan font-size="5" dy="-2.5">+</tspan><tspan dy="2.5">). Changes of neutrophil adhesion in the subgroup</tspan></text>
<text x="32.00" y="885.42" font-size="9" font-weight="normal" text-anchor="start" fill="#262626" textLength="480.10" lengthAdjust="spacingAndGlyphs">of patients included before start of hydroxyurea therapy are depicted separately. Neutrophil adhesion before start of hydroxyurea is</text>
<text x="32.00" y="896.08" font-size="9" font-weight="normal" text-anchor="start" fill="#262626" textLength="347.80" lengthAdjust="spacingAndGlyphs">depicted in grey (HU subgroup BL) and after start (follow up, FU) in dark blue (HU subgroup FU).</text>
</svg>
</body></html>
